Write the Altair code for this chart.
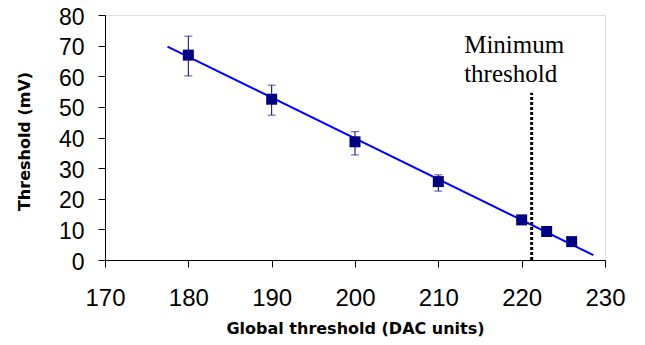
import altair as alt
import pandas as pd

# Data
dac = [180, 190, 200, 210, 220, 223, 226]
thr = [66.9, 52.5, 38.6, 25.6, 13.1, 9.3, 6.0]
err_lo = [60.1, 47.3, 34.3, 22.5, 12.2, 8.6, 5.4]
err_hi = [73.1, 57.1, 41.9, 27.8, 14.0, 10.0, 6.6]

fit_x = [177.5, 228.6]
fit_y = [69.7, 1.6]

min_x = [221.2]
min_y0 = [0.0]
min_y1 = [54.6]

label_x = [213.1]
label_y = [67.6]
label_lines = ["Minimum", "threshold"]

x_ticks = [170, 180, 190, 200, 210, 220, 230]
y_ticks = [0, 10, 20, 30, 40, 50, 60, 70, 80]

pts = pd.DataFrame({"x": dac, "y": thr, "lo": err_lo, "hi": err_hi})
fit = pd.DataFrame({"x": fit_x, "y": fit_y})
vline = pd.DataFrame({"x": min_x, "y0": min_y0, "y1": min_y1})
lab = pd.DataFrame({"x": label_x, "y": label_y})

navy = "#000080"

xscale = alt.Scale(domain=[170, 230], nice=False, zero=False)
yscale = alt.Scale(domain=[0, 80], nice=False, zero=False)

xaxis = alt.Axis(
    title="Global threshold (DAC units)", values=x_ticks, grid=False,
    labelFont="Liberation Sans", labelFontSize=24, labelColor="black",
    labelPadding=19, tickSize=7, tickColor="black", domainColor="black",
    labelFlush=False, labelOverlap=False, labelBound=False,
    titleFont="DejaVu Sans", titleFontSize=16, titleFontWeight="bold",
    titleColor="black", titleY=73, titleBaseline="alphabetic",
)
yaxis = alt.Axis(
    title="Threshold (mV)", values=y_ticks, grid=False,
    labelFont="Liberation Sans", labelFontSize=23, labelColor="black",
    labelPadding=14, tickSize=7, tickColor="black", domainColor="black",
    labelFlush=False, labelOverlap=False, labelBound=False, labelOffset=2,
    titleFont="DejaVu Sans", titleFontSize=16, titleFontWeight="bold",
    titleColor="black", titleX=-76, titleY=126, titleAngle=270,
    titleBaseline="alphabetic", titleAlign="center",
)


def X(field):
    return alt.X(field, type="quantitative", scale=xscale, axis=xaxis)


def Y(field):
    return alt.Y(field, type="quantitative", scale=yscale, axis=yaxis)


line = alt.Chart(fit).mark_line(color="#0000FF", strokeWidth=2).encode(
    x=X("x"), y=Y("y")
)

rules = alt.Chart(pts).mark_rule(color=navy, strokeWidth=1).encode(
    x=X("x"), y=Y("lo"), y2="hi:Q"
)
cap_lo = alt.Chart(pts).mark_tick(color=navy, orient="horizontal", size=8, thickness=1).encode(
    x=X("x"), y=Y("lo")
)
cap_hi = alt.Chart(pts).mark_tick(color=navy, orient="horizontal", size=8, thickness=1).encode(
    x=X("x"), y=Y("hi")
)

squares = alt.Chart(pts).mark_square(size=121, color=navy, opacity=1).encode(
    x=X("x"), y=Y("y")
)

dotted = alt.Chart(vline).mark_rule(color="black", strokeWidth=3, strokeDash=[3, 2]).encode(
    x=X("x"), y=Y("y0"), y2="y1:Q"
)

text = alt.Chart(lab).mark_text(
    text=label_lines, font="Liberation Serif", fontSize=25, align="left",
    baseline="alphabetic", lineHeight=29, color="black"
).encode(x=X("x"), y=Y("y"))

chart = alt.layer(line, rules, cap_lo, cap_hi, squares, dotted, text).properties(
    width=500, height=245,
    autosize=alt.AutoSizeParams(type="none"),
    padding={"left": 97, "top": 7, "right": 32, "bottom": 77},
).configure_view(stroke="black", strokeWidth=1).configure(background="white")

chart.save("out.html", embed_options={"renderer": "svg", "actions": False})
